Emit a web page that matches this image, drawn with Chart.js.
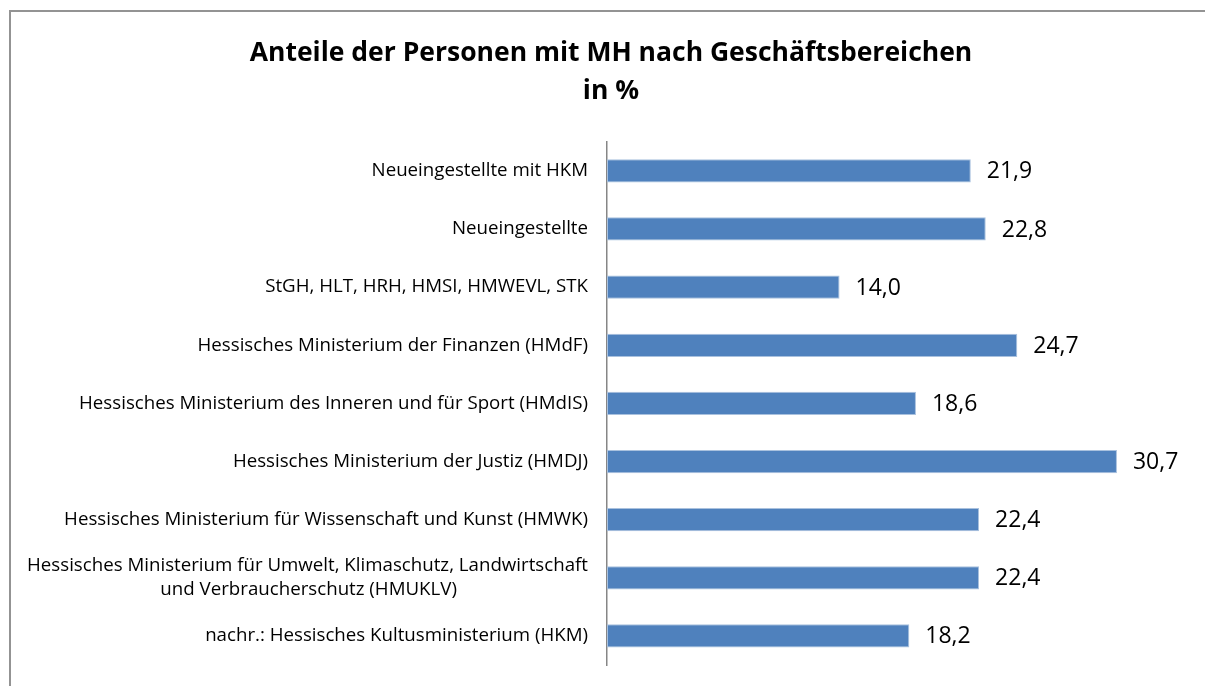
<!DOCTYPE html>
<html><head><meta charset="utf-8">
<script src="https://cdn.jsdelivr.net/npm/chart.js@4/dist/chart.umd.min.js"></script>
<style>
html,body{margin:0;padding:0;background:#fff;}
#wrap{position:relative;width:1205px;height:686px;overflow:hidden;}
#frame{position:absolute;left:9px;top:10px;width:1250px;height:720px;border:2px solid #939393;box-sizing:border-box;}
canvas{position:absolute;left:0;top:0;}
</style></head>
<body><div id="wrap"><div id="frame"></div><canvas id="c" width="1205" height="686"></canvas></div>
<script>
const categories = [
  "Neueingestellte mit HKM",
  "Neueingestellte",
  "StGH, HLT, HRH, HMSI, HMWEVL, STK",
  "Hessisches Ministerium der Finanzen (HMdF)",
  "Hessisches Ministerium des Inneren und für Sport (HMdIS)",
  "Hessisches Ministerium der Justiz (HMDJ)",
  "Hessisches Ministerium für Wissenschaft und Kunst (HMWK)",
  ["Hessisches Ministerium für Umwelt, Klimaschutz, Landwirtschaft", "und Verbraucherschutz (HMUKLV)"],
  "nachr.: Hessisches Kultusministerium (HKM)"
];
const values = [21.9, 22.8, 14.0, 24.7, 18.6, 30.7, 22.4, 22.4, 18.2];
const titleLines = ["Anteile der Personen mit MH nach Geschäftsbereichen", "in %"];

const FONT = "'Open Sans', Lato, sans-serif";
const TICK_SIZE = 18.7;

// centre the lines of multi-line tick labels (right-aligned block)
const measureCtx = document.createElement('canvas').getContext('2d');
function centredLines(lbl) {
  if (!Array.isArray(lbl)) return lbl;
  measureCtx.font = TICK_SIZE + "px " + FONT;
  const ws = lbl.map(s => measureCtx.measureText(s).width);
  const maxW = Math.max(...ws);
  const sp = measureCtx.measureText('\u00A0').width;
  return lbl.map((s, i) => s + '\u00A0'.repeat(Math.round((maxW - ws[i]) / 2 / sp)));
}

const valueLabels = {
  id: 'valueLabels',
  afterDatasetsDraw(chart) {
    const ctx = chart.ctx;
    const meta = chart.getDatasetMeta(0);
    ctx.save();
    ctx.font = "23px " + FONT;
    ctx.fillStyle = "#000";
    ctx.textAlign = "left";
    ctx.textBaseline = "middle";
    meta.data.forEach((el, i) => {
      const txt = values[i].toFixed(1).replace('.', ',');
      ctx.fillText(txt, el.x + 16, el.y + 1);
    });
    ctx.restore();
  }
};

new Chart(document.getElementById('c'), {
  type: 'bar',
  data: {
    labels: categories,
    datasets: [{
      data: values,
      backgroundColor: '#4F81BD',
      borderColor: '#A9C1DE',
      borderWidth: 1,
      borderSkipped: false,
      categoryPercentage: 1.0,
      barPercentage: 0.4
    }]
  },
  options: {
    indexAxis: 'y',
    responsive: false,
    animation: false,
    layout: { padding: { left: 17, right: 0, top: 0, bottom: 21 } },
    plugins: {
      legend: { display: false },
      tooltip: { enabled: false },
      title: {
        display: true,
        text: titleLines,
        color: '#000',
        font: { family: FONT, size: 26.5, weight: 'bold', lineHeight: 1.43 },
        padding: { top: 35, bottom: 31 }
      }
    },
    scales: {
      x: { display: false, min: 0, max: 36 },
      y: {
        afterFit(scale) {
          scale.width = 590;
          scale.paddingTop = 0;
          scale.paddingBottom = 0;
        },
        grid: { display: true, color: 'transparent', drawTicks: false },
        border: { display: true, color: '#868686', width: 1.5 },
        ticks: {
          color: '#000',
          padding: 19,
          font: { family: FONT, size: TICK_SIZE, lineHeight: 1.25 },
          callback(value) { return centredLines(this.getLabelForValue(value)); }
        }
      }
    }
  },
  plugins: [valueLabels]
});
</script>
</body></html>
